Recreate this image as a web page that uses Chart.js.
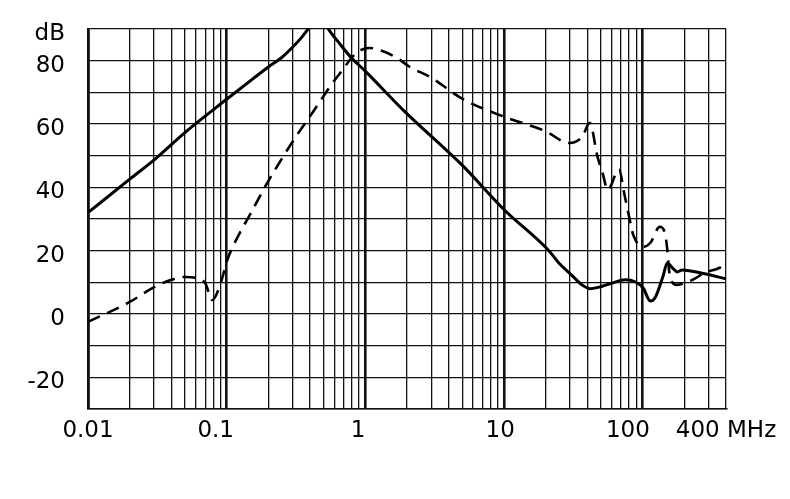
<!DOCTYPE html>
<html>
<head>
<meta charset="utf-8">
<script src="https://cdn.jsdelivr.net/npm/chart.js"></script>
<style>
  body { margin: 0; background: #fff; }
</style>
</head>
<body>
<canvas id="chart" width="790" height="499"></canvas>
<script>
// solid curve (MHz / dB)
const solidFreq = [0.01, 0.02, 0.03, 0.05, 0.1, 0.157, 0.2, 0.25, 0.3, 0.345, 0.39, 0.45, 0.5, 0.55, 0.65, 0.79, 1, 1.92, 5, 10, 21.5, 25, 30.8, 36.6, 42, 48.6, 60.5, 75, 89, 101, 114, 124, 140, 151, 164, 178, 193, 280, 400];
const solidDb = [32, 42.6, 48.7, 57.3, 67.8, 74.5, 78, 81, 84.3, 87.2, 90.2, 94, 92.4, 89.6, 85.5, 81, 76.7, 64, 47, 33, 19.6, 16, 12.3, 9.2, 8, 8.5, 9.8, 10.8, 10.1, 8.2, 4.1, 5.4, 11.7, 16.1, 14.6, 13.3, 13.9, 12.7, 11.1];

// dashed curve (MHz / dB)
const dashFreq = [0.01, 0.02, 0.03, 0.04, 0.05, 0.06, 0.07, 0.079, 0.086, 0.093, 0.101, 0.113, 0.15, 0.2, 0.3, 0.43, 0.56, 0.67, 0.8, 0.9, 1.07, 1.3, 1.67, 2.1, 3, 5, 10, 20, 29.6, 36.8, 41.6, 47.3, 51.5, 56, 67.7, 73.6, 80, 85.7, 101, 114, 133, 145, 151, 157, 176, 230, 280, 360, 400];
const dashDb = [-2.5, 3.8, 8.5, 10.8, 11.7, 11.4, 9.8, 4.4, 7, 11.4, 17, 22, 32, 42, 54.5, 64.5, 72, 76.5, 81, 83, 84, 83.2, 81, 78, 74.6, 68, 62.3, 57.7, 54, 56, 60.4, 49.7, 44.6, 39.2, 45.6, 38.3, 30.7, 25, 21.2, 22.5, 27.5, 25.6, 20.2, 12.3, 9.2, 10.8, 13, 14.6, 16.1];

const xLabelValues = [0.01, 0.1, 1, 10, 100, 400];
const xLabelTexts = ['0.01', '0.1   ', '1  ', '10 ', '100    ', '400 MHz'];
const yLabelValues = [90, 80, 60, 40, 20, 0, -20];
const yLabelTexts = ['dB', '80', '60', '40', '20', '0', '-20'];

function toPoints(xs, ys) {
  return xs.map((x, i) => ({ x: x, y: ys[i] }));
}

function labelFor(values, texts, v) {
  const i = values.findIndex(a => Math.abs(a - v) <= 1e-9 * Math.max(1, Math.abs(a)));
  return i < 0 ? '' : texts[i];
}

function isDecade(v) {
  const l = Math.log10(v);
  return Math.abs(l - Math.round(l)) < 1e-6;
}

const font = { family: 'DejaVu Sans', size: 23 };

new Chart(document.getElementById('chart'), {
  type: 'line',
  data: {
    datasets: [
      {
        data: toPoints(solidFreq, solidDb),
        borderColor: '#000',
        borderWidth: 3,
        pointRadius: 0,
        cubicInterpolationMode: 'monotone',
        clip: 0,
      },
      {
        data: toPoints(dashFreq, dashDb),
        borderColor: '#000',
        borderWidth: 2.6,
        borderDash: [13, 8],
        pointRadius: 0,
        cubicInterpolationMode: 'monotone',
        clip: 0,
      },
    ],
  },
  options: {
    responsive: false,
    animation: false,
    layout: { padding: { top: 29, right: 64, left: 0, bottom: 0 } },
    plugins: { legend: { display: false }, tooltip: { enabled: false } },
    scales: {
      x: {
        type: 'logarithmic',
        min: 0.01,
        max: 400,
        afterBuildTicks: (scale) => {
          const ticks = [];
          for (let e = -2; e <= 2; e++) {
            for (let k = 1; k <= 9; k++) {
              const v = k * Math.pow(10, e);
              if (v <= 400.000001) ticks.push({ value: v });
            }
          }
          scale.ticks = ticks;
        },
        afterFit: (scale) => {
          scale.height = 90;
          scale.paddingLeft = 0;
          scale.paddingRight = 0;
        },
        grid: {
          color: '#111',
          lineWidth: (ctx) => (ctx.tick && isDecade(ctx.tick.value) ? 2.6 : 1.3),
          drawTicks: false,
        },
        border: { display: true, color: '#111', width: 1.5 },
        ticks: {
          autoSkip: false,
          maxRotation: 0,
          padding: 8,
          color: '#000',
          font: font,
          callback: (v) => labelFor(xLabelValues, xLabelTexts, v),
        },
      },
      y: {
        type: 'linear',
        min: -30,
        max: 90,
        afterFit: (scale) => {
          scale.width = 88;
          scale.paddingTop = 0;
          scale.paddingBottom = 0;
        },
        grid: { color: '#111', lineWidth: 1.3, drawTicks: false },
        border: { display: true, color: '#111', width: 2.6 },
        ticks: {
          stepSize: 10,
          autoSkip: false,
          padding: 23,
          labelOffset: 5,
          color: '#000',
          font: font,
          callback: (v) => labelFor(yLabelValues, yLabelTexts, v),
        },
      },
    },
  },
});
</script>
</body>
</html>
